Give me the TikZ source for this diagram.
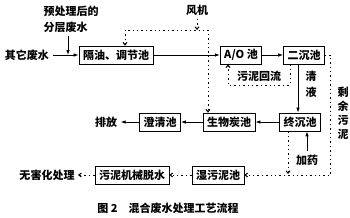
\documentclass[tikz,border=0pt]{standalone}
\usepackage{fontspec}
\setmainfont{Noto Sans CJK SC}
\usetikzlibrary{arrows.meta}
\tikzset{
  box/.style = {draw, line width = .7pt, inner xsep = 4pt, inner ysep = 3pt,
    minimum height = 18pt},
  line/.style = {line width = .8pt, -{Latex[length = 5pt, width = 3.5pt]}},
  dot/.style = {line width = 1pt, dash pattern = on 1.4pt off 3pt,
    -{Straight Barb[length = 2.5pt, width = 4pt]}},
  dotboth/.style = {dot, {Straight Barb[length = 2.5pt, width = 4pt]}-{Straight
    Barb[length = 2.5pt, width = 4pt]}}
}
\begin{document}
\begin{tikzpicture}[x = 1pt, y = -1pt, font = \fontsize{11}{16}\selectfont\bfseries]
  \useasboundingbox (0,0) rectangle (350,217);
  % nodes
  \node [anchor = west, align = left] (yc) at (40,19) {预处理后的\\分层废水};
  \node (qt) at (27,55) {其它废水};
  \node [box] (gy) at (116,55) {隔油、调节池};
  \node [box] (ao) at (241,55) {A/O 池};
  \node [box] (ec) at (304,55) {二沉池};
  \node (fj) at (197,10) {风机};
  \node [box] (zc) at (300,122) {终沉池};
  \node [box] (swt) at (229,122) {生物炭池};
  \node [box] (cq) at (160,122) {澄清池};
  \node (pf) at (106,122) {排放};
  \node (jy) at (307,160) {加药};
  \node [box] (sw) at (218,175) {湿污泥池};
  \node [box] (tj) at (132,175) {污泥机械脱水};
  \node (wh) at (47,175) {无害化处理};
  \node (hl) at (259,76) {污泥回流};
  \node [align = center, inner sep = 0pt] (qy) at (311,84) {清\\液};
  \node [align = center, inner sep = 0pt, font = \fontsize{11}{14}\selectfont\bfseries]
    (sy) at (343,113) {剩\\余\\污\\泥};
  \node (tt) at (168,208) {图 2\quad 混合废水处理工艺流程};
  % helper points
  \coordinate (m) at (68,55);
  \coordinate (a1) at (125,30);
  \coordinate (a2) at (208,30);
  \coordinate (r1) at (290,85);
  \coordinate (r2) at (228,85);
  \coordinate (q) at (298,0);
  \coordinate (s1) at (288,174);
  % solid flow
  \draw [line] (qt) -- (gy);
  \draw [line] (yc.south -| m) -- (m);
  \draw [line] (gy) -- (ao);
  \draw [line] (ao) -- (ec);
  \draw [line] (ec.south -| q) -- (zc.north -| q);
  \draw [line] (zc) -- (swt);
  \draw [line] (swt) -- (cq);
  \draw [line] (cq) -- (pf);
  \draw [line] (jy) -- (zc.south -| jy);
  % dotted flow
  \draw [dot] (fj) -- (fj |- a1);
  \draw [dotboth] (gy.north -| a1) -- (a1) -- (a2) -- (swt.north -| a2);
  \draw [dot] (ec.south -| r1) -- (r1) -- (r2) -- (ao.south -| r2);
  \draw [dot] (ec.east) -- ++(6,0) |- (sw.east);
  \draw [dot] (zc.south -| s1) -- (s1);
  \draw [dot] (sw) -- (tj);
  \draw [dot] (tj) -- (wh);
\end{tikzpicture}
\end{document}
